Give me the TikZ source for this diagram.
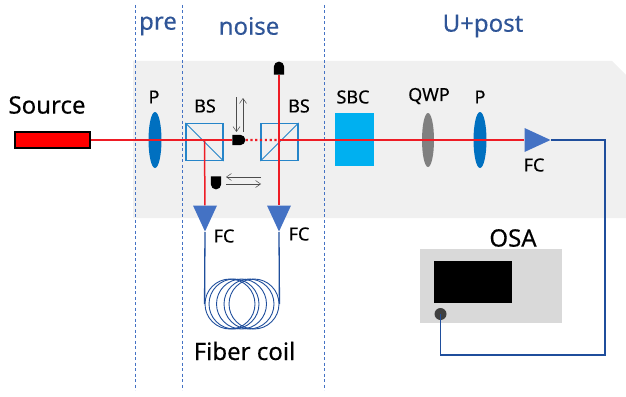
\documentclass[tikz,border=0pt]{standalone}
\usepackage{fontspec}
\setmainfont{Noto Sans}[FakeBold=0.3]
\usepackage{tikz}
\usetikzlibrary{shapes.geometric,shapes.gates.logic.US,arrows.meta}
\definecolor{panelgray}{HTML}{F0F0F0}
\definecolor{fiberblue}{HTML}{1F4E9C}
\definecolor{titleblue}{HTML}{2F5597}
\definecolor{lensblue}{HTML}{0070C0}
\definecolor{coupler}{HTML}{4472C4}
\definecolor{sbcblue}{HTML}{00B0F0}
\definecolor{beamred}{HTML}{EE1C25}
\tikzset{%
  label/.style    = {inner sep=0pt, font=\fontsize{18}{18}\selectfont},
  biglabel/.style = {inner sep=0pt, font=\fontsize{24}{24}\selectfont},
  title/.style    = {inner sep=0pt, text=titleblue, font=\fontsize{24}{24}\selectfont},
  lens/.style     = {ellipse, fill=lensblue, inner sep=0pt, minimum width=13pt, minimum height=56pt},
  cube/.style     = {rectangle, draw=lensblue!85!white, line width=1.1pt, inner sep=0pt, minimum size=37pt},
  fc/.style       = {isosceles triangle, isosceles triangle apex angle=50, isosceles triangle stretches,
    fill=coupler, inner sep=0pt, minimum height=26pt, minimum width=24pt},
  det/.style      = {and gate US, fill=black, inner sep=0pt, minimum width=13pt, minimum height=10.5pt,
    scale=0.72, transform shape},
  loop/.style     = {ellipse, draw=fiberblue, line width=0.9pt, inner sep=0pt, minimum width=50pt, minimum height=50pt},
  beam/.style     = {draw=beamred, line width=1.5pt},
  fiber/.style    = {draw=fiberblue, line width=1.3pt},
  motion/.style   = {draw=black!70, line width=0.5pt, -{Straight Barb[length=5pt,width=7pt]}},
  sep/.style      = {draw=coupler, line width=0.8pt, dash pattern=on 3pt off 2.5pt}
}

\begin{document}
\begin{tikzpicture}[x=1pt, y=-1pt]
\useasboundingbox (0,0) rectangle (626,396);
% table
\fill[panelgray] (133,61) -- (612,61) -- (626,75) -- (626,218) -- (133,218) -- cycle;

\foreach \xsep in {135,182,324}{
    \coordinate (septop\xsep) at (\xsep,5);
    \coordinate (sepbot\xsep) at (\xsep,390);
    \draw[sep] (septop\xsep) -- (sepbot\xsep);
}

\draw
    node at(158,26)[title,name=pre]{pre}
    node at(249,26)[title,name=noise]{noise}
    node at(483,26)[title,name=upost]{U+post}

    node at(47,105)[biglabel,name=srclabel]{Source}
    node at(52,140)[rectangle,draw=black,line width=2pt,fill=red,minimum width=75pt,minimum height=16pt,inner sep=0pt,name=source]{}

    node at(154,97)[label,name=plabela]{P}
    node at(155,140)[lens,name=pola]{}
    node at(205,106)[label,name=bslabela]{BS}
    node at(204.5,142)[cube,name=bsa]{}
    node at(299,106)[label,name=bslabelb]{BS}
    node at(279.5,142)[cube,name=bsb]{}

    node at(353,97)[label,name=sbclabel]{SBC}
    node at(354.5,139.5)[rectangle,fill=sbcblue,minimum width=39pt,minimum height=53pt,inner sep=0pt,name=sbc]{}
    node at(429,96)[label,name=qwplabel]{QWP}
    node at(428,140)[lens,fill=black!50,minimum width=12pt,minimum height=54pt,name=qwp]{}
    node at(480,97)[label,name=plabelb]{P}
    node at(480,140)[lens,name=polb]{}

    node at(205,232)[fc,anchor=apex,shape border rotate=270,name=fca]{}
    node at(279,232)[fc,anchor=apex,shape border rotate=270,name=fcb]{}
    node at(551,140)[fc,anchor=apex,name=fcc]{}
    node at(224,236)[label,name=fclabela]{FC}
    node at(299,234)[label,name=fclabelb]{FC}
    node at(534,165)[label,name=fclabelc]{FC}

    node at(513,238)[biglabel,name=osalabel]{OSA}
    node at(491,286)[rectangle,fill=black!15,minimum width=142pt,minimum height=74pt,inner sep=0pt,name=osa]{}
    node at(473,282)[rectangle,fill=black,minimum width=78pt,minimum height=42pt,inner sep=0pt,name=screen]{}
    node at(440.5,314)[circle,fill=black!75,minimum size=12pt,inner sep=0pt,name=knob]{}

    node at(244.5,351)[biglabel,name=coillabel]{Fiber coil}
;

\foreach \xloop/\iloop in {230/1,234/2,241.5/3,249/4,254/5}{
    \node[loop,name=coil\iloop] at (\xloop,304) {};
}

\draw[draw=lensblue!85!white,line width=1pt] (bsa.north west) -- (bsa.south east);
\draw[draw=lensblue!85!white,line width=1pt] (bsb.south west) -- (bsb.north east);

% beam path
\draw
    node at(238.5,140)[det,name=deta]{}
    node at(279,68.5)[det,rotate=90,name=detb]{}
    node at(216,182.5)[det,rotate=-90,name=detc]{}
;
\draw[beam] (source.east) -- (deta.west);
\draw[beam] (bsa.center |- deta) -- (fca);
\draw[beam] (detb) -- (fcb);
\draw[beam, line width=2.2pt, dash pattern=on 2.2pt off 2.6pt] (deta) -- (bsb.center |- deta);
\draw[beam] (bsb.center |- deta) -- (fcc);

% fibers
\coordinate (fibcorner) at (605,355);
\draw[fiber] (fca.apex) -- (coil1.west);
\draw[fiber] (fcb.apex) -- (coil5.east);
\draw[fiber] (fcc.apex) -| (fibcorner) -| (knob.center);

% moving detectors
\coordinate (arrdowna) at (236.5,97);
\coordinate (arrdownb) at (236.5,132);
\coordinate (arrupa) at (243,132);
\coordinate (arrupb) at (243,98);
\coordinate (arrlefta) at (261,177);
\coordinate (arrleftb) at (226,177);
\coordinate (arrrighta) at (226,184);
\coordinate (arrrightb) at (261,184);
\draw[motion] (arrdowna) -- (arrdownb);
\draw[motion] (arrupa) -- (arrupb);
\draw[motion] (arrlefta) -- (arrleftb);
\draw[motion] (arrrighta) -- (arrrightb);
\end{tikzpicture}
\end{document}
